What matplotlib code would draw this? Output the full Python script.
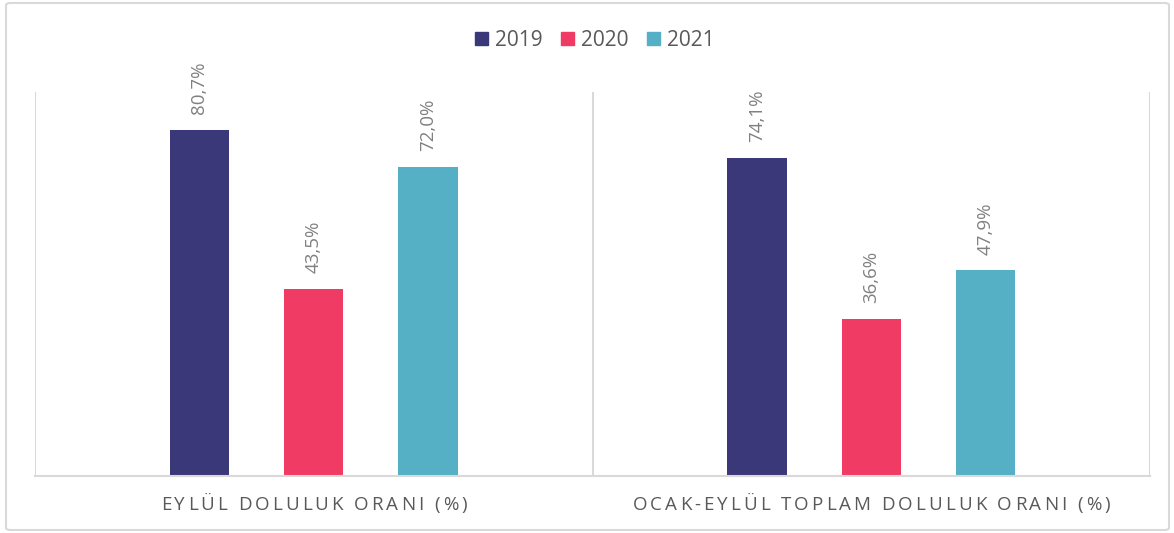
import matplotlib.pyplot as plt
from matplotlib.patches import FancyBboxPatch, Patch
import numpy as np

categories = ["EYLÜL DOLULUK ORANI (%)", "OCAK-EYLÜL TOPLAM DOLULUK ORANI (%)"]
years = ["2019", "2020", "2021"]
v2019 = [80.7, 74.1]
v2020 = [43.5, 36.6]
v2021 = [72.0, 47.9]
colors = ["#3a3878", "#f03c64", "#55afc5"]

plt.rcParams['font.family'] = ['Open Sans', 'DejaVu Sans']

fig = plt.figure(figsize=(11.74, 5.33), dpi=100)
ax = fig.add_axes([35 / 1174, 57 / 533, 1115 / 1174, 384 / 533])

x = np.arange(len(categories))
offsets = [-0.205, 0, 0.205]
w = 0.106
for vals, off, col, yr in zip([v2019, v2020, v2021], offsets, colors, years):
    bars = ax.bar(x + off, vals, w, color=col, label=yr)
    for b, v in zip(bars, vals):
        ax.annotate("{:.1f}%".format(v).replace(".", ","),
                    (b.get_x() + b.get_width() / 2, v),
                    xytext=(0, 11.5), textcoords="offset points",
                    rotation=90, ha="center", va="bottom",
                    fontsize=13.5, color="#808080")

ax.set_xlim(-0.5, 1.5)
ax.set_ylim(0, 89.5)
ax.set_yticks([])
ax.set_xticks([])
for s in ["top", "right", "left"]:
    ax.spines[s].set_visible(False)
ax.spines["bottom"].set_color("#d9d9d9")
ax.spines["bottom"].set_linewidth(1.5)
for xv in [-0.5, 0.5, 1.5]:
    ax.axvline(xv, color="#d9d9d9", lw=1.5)


# category labels with letter spacing (Excel style)
def spaced_text(xc, yc, s, spacing=3.0, **kw):
    r = fig.canvas.get_renderer()
    parts = [fig.text(0, 0, ch, **kw) for ch in s]
    widths = [p.get_window_extent(r).width for p in parts]
    total = sum(widths) + spacing * (len(s) - 1)
    px = xc - total / 2
    for p, wd in zip(parts, widths):
        p.set_position((px / fig.bbox.width, yc / fig.bbox.height))
        px += wd + spacing


for xi, cat in zip(x, categories):
    xc = ax.transData.transform((xi, 0))[0]
    spaced_text(xc, 533 - 505, cat, fontsize=13.5, color="#595959",
                ha="left", va="center")

handles = [Patch(color=c, label=y) for c, y in zip(colors, years)]
fig.legend(handles=handles, loc="center", bbox_to_anchor=(595 / 1174, 493 / 533),
           ncol=3, frameon=False, fontsize=15, handlelength=0.6, handleheight=0.6,
           handletextpad=0.35, columnspacing=0.9, labelcolor="#595959")

border = FancyBboxPatch((6 / 1174, 3 / 533), 1163 / 1174, 527 / 533,
                        boxstyle="round,pad=0,rounding_size=0.004",
                        transform=fig.transFigure, fill=False,
                        edgecolor="#d9d9d9", lw=1.5)
fig.patches.append(border)

fig.savefig("out.png", dpi=100)
